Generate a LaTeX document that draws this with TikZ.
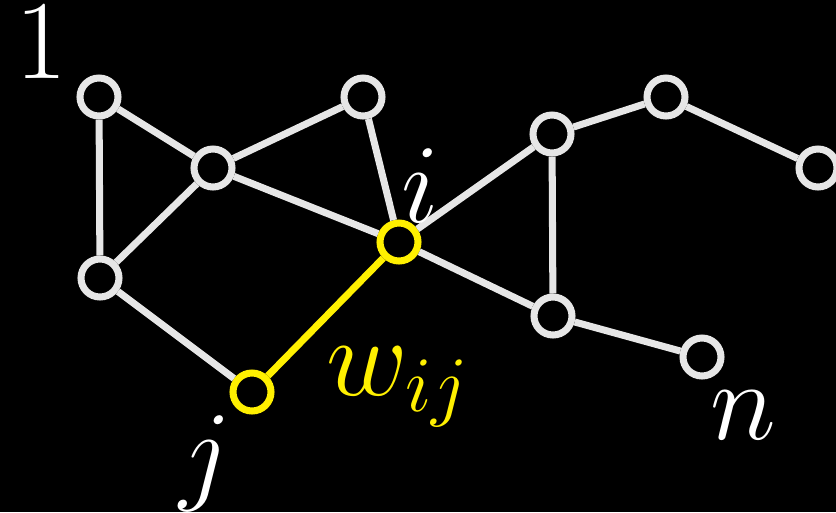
\RequirePackage{fix-cm}
\documentclass[tikz,border=0pt]{standalone}
\usepackage{tikz}
\definecolor{edgegray}{HTML}{E6E6E6}
\definecolor{hiyellow}{HTML}{FFF000}

\begin{document}
\begin{tikzpicture}[x=0.02cm,y=-0.02cm,
    vtx/.style={circle,draw=edgegray,fill=black,line width=4pt,minimum size=0.76cm,inner sep=0pt},
    edge/.style={edgegray,line width=4pt},
    big/.style={font=\fontsize{64}{76}\selectfont,inner sep=0pt}]
  \useasboundingbox (0,0) rectangle (836,512);
  \fill[black] (0,0) rectangle (836,512);
  % vertices
  \foreach \nm/\x/\y in {a/99/97, b/213/168, c/363/97, d/100/278, e/552/134,
                         f/666/97, g/818/168, h/553/316, n/702/357}
    \node[vtx] (\nm) at (\x,\y) {};
  \node[vtx,draw=hiyellow] (i) at (399,242) {};
  \node[vtx,draw=hiyellow] (j) at (252,392) {};
  % edges
  \foreach \u/\v in {a/b, a/d, b/c, b/d, b/i, c/i, d/j, i/e, i/h, e/f, f/g, e/h, h/n}
    \draw[edge] (\u) -- (\v);
  \draw[edge,hiyellow] (j) -- (i);
  % labels
  \node[big,white] (one) at (41,41) {1};
  \node[big,white] (ilab) at (420,186) {$i$};
  \node[big,white] (jlab) at (205,464) {$j$};
  \node[big,hiyellow] (wlab) at (398,387) {$w_{ij}$};
  \node[big,white] (nlab) at (743,415) {$n$};
\end{tikzpicture}
\end{document}
